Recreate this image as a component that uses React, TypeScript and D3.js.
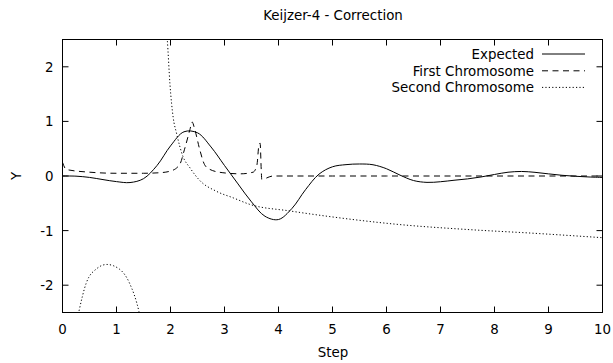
import React from "react";
import * as d3 from "d3";

// Expected curve, sampled every 0.25 step
const expectedSteps = [
  0, 0.25, 0.5, 0.75, 1, 1.25, 1.5, 1.75, 2, 2.25, 2.5, 2.75, 3, 3.25, 3.5, 3.75,
  4, 4.25, 4.5, 4.75, 5, 5.25, 5.5, 5.75, 6, 6.25, 6.5, 6.75, 7, 7.25, 7.5, 7.75,
  8, 8.25, 8.5, 8.75, 9, 9.25, 9.5, 9.75, 10,
];
const expectedValues = [
  0, -0.003, -0.026, -0.066, -0.103, -0.12, -0.049, 0.192, 0.551, 0.81, 0.791, 0.532,
  0.192, -0.145, -0.474, -0.738, -0.797, -0.593, -0.251, 0.034, 0.169, 0.208, 0.22,
  0.206, 0.133, 0.016, -0.083, -0.117, -0.105, -0.078, -0.053, -0.018, 0.028, 0.069,
  0.083, 0.067, 0.039, 0.013, -0.005, -0.018, -0.026,
];

// First chromosome
const firstSteps = [
  0, 0.07, 0.5, 1.0, 1.5, 1.8, 2.0, 2.17, 2.26, 2.36, 2.4, 2.45, 2.54, 2.63, 2.73,
  2.97, 3.3, 3.53, 3.6, 3.64, 3.66, 3.68, 3.69, 3.9, 5, 6, 7, 8, 9, 10,
];
const firstValues = [
  0.25, 0.12, 0.07, 0.05, 0.05, 0.06, 0.09, 0.21, 0.49, 0.85, 0.99, 0.85, 0.49, 0.21,
  0.12, 0.06, 0.04, 0.07, 0.2, 0.58, 0.6, 0.12, -0.06, 0, 0, 0, 0, 0, 0, 0,
];

// Second chromosome (null marks a break at a pole)
const secondSteps = [
  0, 0, 0,
  0.22, 0.3, 0.44, 0.63, 0.82, 1.06, 1.24, 1.42, 1.5, 1.6,
  1.9, 1.94, 1.99, 2.05, 2.11, 2.23, 2.36, 2.54, 2.85, 3.16, 3.47, 4.21, 5.0, 6.25,
  7.5, 8.75, 10,
];
const secondValues: (number | null)[] = [
  2.6, -2.6, null,
  -2.9, -2.5, -1.96, -1.7, -1.62, -1.71, -1.96, -2.5, -2.9, null,
  2.9, 2.5, 1.68, 1.07, 0.79, 0.36, 0.15, -0.08, -0.28, -0.4, -0.52, -0.64, -0.75,
  -0.89, -0.98, -1.05, -1.13,
];

const xTicks = [0, 1, 2, 3, 4, 5, 6, 7, 8, 9, 10];
const yTicks = [-2, -1, 0, 1, 2];
const legendLabels = ["Expected", "First Chromosome", "Second Chromosome"];

const W = 613;
const H = 363;
const left = 62.5;
const right = 602.5;
const top = 39.5;
const bottom = 312.5;
const FONT = "'DejaVu Sans', sans-serif";
const FS = 13.4;
const TICK = 6;

const dashStyles = [undefined, "6,4.5", "1.2,2.2"];

function segmentsOf(xs: number[], ys: (number | null)[]) {
  const segs: [number, number][][] = [];
  let cur: [number, number][] = [];
  xs.forEach((x, i) => {
    const y = ys[i];
    if (y === null) {
      if (cur.length) segs.push(cur);
      cur = [];
    } else cur.push([x, y]);
  });
  if (cur.length) segs.push(cur);
  return segs;
}

const fmt = (v: number) => String(v);

export default function App() {
  const x = d3.scaleLinear().domain([0, 10]).range([left, right]);
  const y = d3.scaleLinear().domain([-2.5, 2.5]).range([bottom, top]);

  const smooth = d3
    .line<[number, number]>()
    .x((d) => x(d[0]))
    .y((d) => y(d[1]))
    .curve(d3.curveCatmullRom.alpha(0.5));
  const mono = d3
    .line<[number, number]>()
    .x((d) => x(d[0]))
    .y((d) => y(d[1]))
    .curve(d3.curveMonotoneX);

  const expectedPts = expectedSteps.map((s, i) => [s, expectedValues[i]] as [number, number]);
  const firstPts = firstSteps.map((s, i) => [s, firstValues[i]] as [number, number]);
  const secondSegs = segmentsOf(secondSteps, secondValues);

  const legendY = [54, 70.8, 87.4];

  return (
    <svg
      width={W}
      height={H}
      style={{ position: "absolute", left: 0, top: 0, background: "#fff" }}
      fontFamily={FONT}
      fontSize={FS}
    >
      <rect x={0} y={0} width={W} height={H} fill="#fff" />
      <defs>
        <clipPath id="plot-area">
          <rect x={left} y={top} width={right - left} height={bottom - top} />
        </clipPath>
      </defs>

      <text x={333} y={20} textAnchor="middle" fill="#000">
        Keijzer-4 - Correction
      </text>

      {/* ticks on all four sides */}
      <g stroke="#000" strokeWidth={1}>
        {xTicks.map((t) => (
          <g key={"xt" + t}>
            <line x1={x(t)} x2={x(t)} y1={bottom} y2={bottom - TICK} />
            <line x1={x(t)} x2={x(t)} y1={top} y2={top + TICK} />
          </g>
        ))}
        {yTicks.map((t) => (
          <g key={"yt" + t}>
            <line x1={left} x2={left + TICK} y1={y(t)} y2={y(t)} />
            <line x1={right} x2={right - TICK} y1={y(t)} y2={y(t)} />
          </g>
        ))}
      </g>

      {xTicks.map((t) => (
        <text key={"xl" + t} x={x(t)} y={334} textAnchor="middle" fill="#000">
          {fmt(t)}
        </text>
      ))}
      {yTicks.map((t) => (
        <text key={"yl" + t} x={53.5} y={y(t) + 5} textAnchor="end" fill="#000">
          {fmt(t)}
        </text>
      ))}

      <text x={333} y={357} textAnchor="middle" fill="#000">
        Step
      </text>
      <text
        transform={`translate(21,${y(0)}) rotate(-90)`}
        textAnchor="middle"
        fill="#000"
      >
        Y
      </text>

      <g clipPath="url(#plot-area)" fill="none" stroke="#000" strokeWidth={1}>
        <path d={smooth(expectedPts) || ""} />
        <path d={mono(firstPts) || ""} strokeDasharray={dashStyles[1]} />
        {secondSegs.map((seg, i) => (
          <path key={"s" + i} d={mono(seg) || ""} strokeDasharray={dashStyles[2]} />
        ))}
      </g>

      {/* legend */}
      {legendLabels.map((label, i) => (
        <g key={label}>
          <text x={534} y={legendY[i] + 5} textAnchor="end" fill="#000">
            {label}
          </text>
          <line
            x1={542}
            x2={585}
            y1={legendY[i]}
            y2={legendY[i]}
            stroke="#000"
            strokeWidth={1}
            strokeDasharray={dashStyles[i]}
          />
        </g>
      ))}

      <rect
        x={left}
        y={top}
        width={right - left}
        height={bottom - top}
        fill="none"
        stroke="#000"
        strokeWidth={1}
      />
    </svg>
  );
}
